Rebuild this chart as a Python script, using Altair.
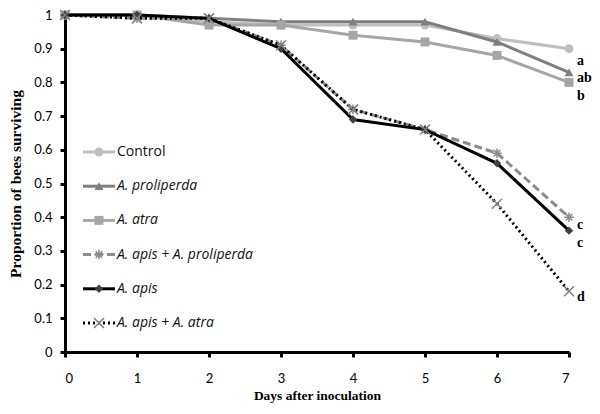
import altair as alt
import pandas as pd

# ---------------- data ----------------
days = [0, 1, 2, 3, 4, 5, 6, 7]
series_names = [
    "Control",
    "A. proliperda",
    "A. atra",
    "A. apis + A. proliperda",
    "A. apis",
    "A. apis + A. atra",
]
control = [1.00, 1.00, 0.98, 0.97, 0.97, 0.97, 0.93, 0.90]
proliperda = [1.00, 1.00, 0.99, 0.98, 0.98, 0.98, 0.92, 0.83]
atra = [1.00, 1.00, 0.97, 0.97, 0.94, 0.92, 0.88, 0.80]
apis_proliperda = [1.00, 0.99, 0.99, 0.91, 0.72, 0.66, 0.59, 0.40]
apis = [1.00, 1.00, 0.99, 0.90, 0.69, 0.66, 0.56, 0.36]
apis_atra = [1.00, 0.99, 0.99, 0.91, 0.72, 0.66, 0.44, 0.18]
series_values = [control, proliperda, atra, apis_proliperda, apis, apis_atra]
sig_letters = ["a", "ab", "b", "c", "c", "d"]
y_ticks = [0, 0.1, 0.2, 0.3, 0.4, 0.5, 0.6, 0.7, 0.8, 0.9, 1.0]

# ---------------- styles ----------------
ASTER = "M-1,0L1,0M0,-1L0,1M-0.7,-0.7L0.7,0.7M-0.7,0.7L0.7,-0.7"
XSHAPE = "M-1,-1L1,1M-1,1L1,-1"
line_colors = ["#BFBFBF", "#7F7F7F", "#A6A6A6", "#8C8C8C", "#000000", "#000000"]
marker_colors = ["#BFBFBF", "#7F7F7F", "#A6A6A6", "#8C8C8C", "#404040", "#808080"]
shapes = ["circle", "triangle-up", "square", ASTER, "diamond", XSHAPE]
filled = [True, True, True, False, True, False]
dashes = [None, None, None, [8, 4], None, [2, 3]]
sizes = [80, 80, 80, 90, 70, 100]
letter_dy = [12, 6, 14, 8, 12, 6]

W, H = 504, 337
x_scale = alt.Scale(domain=[0, 7], nice=False)
y_scale = alt.Scale(domain=[0, 1], nice=False)

x_enc = alt.X(
    "day:Q", scale=x_scale,
    axis=alt.Axis(values=days, format="d", title="Days after inoculation",
                  labelPadding=15, titlePadding=3, titleFontSize=13.5),
)
y_enc = alt.Y(
    "value:Q", scale=y_scale,
    axis=alt.Axis(values=y_ticks, tickCount=11, labelOverlap=False, format=".1~f",
                  title="Proportion of bees surviving",
                  labelPadding=8, titlePadding=10, titleFontSize=15.5),
)

layers = []
for i, name in enumerate(series_names):
    df = pd.DataFrame({"day": days, "value": series_values[i], "series": name})
    line_kw = dict(color=line_colors[i], strokeWidth=3)
    if dashes[i] is not None:
        line_kw["strokeDash"] = dashes[i]
    line = alt.Chart(df).mark_line(**line_kw).encode(x=x_enc, y=y_enc)
    pts = alt.Chart(df).mark_point(
        shape=shapes[i], filled=filled[i], color=marker_colors[i],
        size=sizes[i], strokeWidth=1.5, opacity=1,
    ).encode(x="day:Q", y="value:Q")
    layers += [line, pts]

# significance letters at the end of each series
for i, name in enumerate(series_names):
    df = pd.DataFrame({"day": [days[-1]], "value": [series_values[i][-1]], "letter": [sig_letters[i]]})
    layers.append(
        alt.Chart(df).mark_text(
            align="left", baseline="middle", dx=8, dy=letter_dy[i],
            font="Liberation Serif", fontWeight="bold", fontSize=14, color="black",
        ).encode(x="day:Q", y="value:Q", text="letter:N")
    )

# manual legend inside the plot
leg_y0, leg_step = 137, 34.2
for i, name in enumerate(series_names):
    ly = leg_y0 + i * leg_step
    ldf = pd.DataFrame({"name": [name]})
    rule_kw = dict(color=line_colors[i], strokeWidth=3)
    if dashes[i] is not None:
        rule_kw["strokeDash"] = dashes[i]
    layers.append(
        alt.Chart(ldf).mark_rule(**rule_kw).encode(
            x=alt.value(18), x2=alt.value(50), y=alt.value(ly))
    )
    layers.append(
        alt.Chart(ldf).mark_point(
            shape=shapes[i], filled=filled[i], color=marker_colors[i],
            size=sizes[i], strokeWidth=1.5, opacity=1,
        ).encode(x=alt.value(34), y=alt.value(ly))
    )
    layers.append(
        alt.Chart(ldf).mark_text(
            align="left", baseline="middle", font="Open Sans", fontSize=14,
            fontStyle="normal" if i == 0 else "italic", color="#111111",
        ).encode(x=alt.value(52), y=alt.value(ly), text="name:N")
    )

chart = (
    alt.layer(*layers)
    .properties(
        width=W, height=H,
        autosize=alt.AutoSizeParams(type="none"),
        padding={"left": 57, "top": 7, "right": 23, "bottom": 54},
    )
    .configure_view(stroke=None)
    .configure_axis(
        grid=False, domainColor="black", domainWidth=3,
        tickColor="black", tickWidth=3, tickSize=5,
        labelFont="Lato", labelFontSize=13, labelColor="black",
        titleFont="Liberation Serif", titleFontWeight="bold",
        titleFontSize=13, titleColor="black",
    )
)

chart.save("out.html", embed_options={"renderer": "svg", "actions": False})
